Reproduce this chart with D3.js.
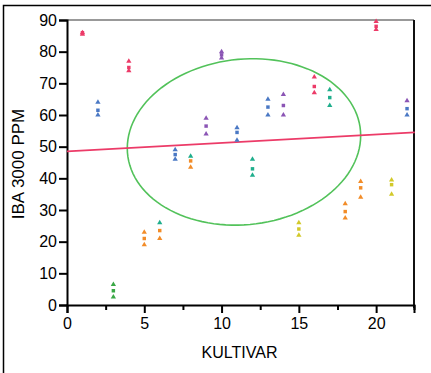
<!DOCTYPE html>
<html>
<head>
<meta charset="utf-8">
<script src="https://cdn.jsdelivr.net/npm/d3@7"></script>
<style>
  body { margin: 0; background: #fff; }
  text { font-family: "Liberation Sans", Arial, sans-serif; }
</style>
</head>
<body>
<svg id="chart" width="431" height="373"></svg>
<script>
// cultivar numbers and three replicate IBA values each
const kultivar = [1, 2, 3, 4, 5, 6, 7, 8, 9, 10, 11, 12, 13, 14, 15, 16, 17, 18, 19, 20, 21, 22];
const rep1 = [86, 64, 6.5, 77, 23, 26, 49, 47, 59, 80, 56, 46, 65, 66.5, 26, 72, 68, 32, 39, 89.5, 39.5, 64.5];
const rep2 = [86, 61.5, 4.5, 75, 21, 23.5, 47.5, 45.5, 56.5, 79, 54.5, 43, 62.5, 63, 24, 69, 65.5, 29.5, 37, 88, 38, 62];
const rep3 = [85.5, 60, 2.5, 74, 19, 21, 46, 43.5, 54, 78, 52, 41, 60, 60, 22, 67, 63, 27.5, 34, 87, 35, 60];

const xTicks = [0, 5, 10, 15, 20];
const yTicks = [0, 10, 20, 30, 40, 50, 60, 70, 80, 90];

// fitted line end points and the ellipse (centre, half-axes, tilt)
const fitX = [0, 22.5];
const fitY = [48.5, 54.5];
const ellipse = { cx: 11.45, cy: 51.5, a: 7.55, b: 26.2, tilt: 2 };

const red = "#ec3b68", blue = "#4a78c4", green = "#3aa846", orange = "#f28c28",
      teal = "#1fae8c", purple = "#8b55b5", yellow = "#d2c92a";
const pointColors = [
  [red, red, red], [blue, blue, blue], [green, green, green], [red, red, red],
  [orange, orange, orange], [teal, orange, orange], [blue, blue, blue], [teal, orange, orange],
  [purple, purple, purple], [purple, purple, purple], [blue, blue, blue], [teal, teal, teal],
  [blue, blue, blue], [purple, purple, purple], [yellow, yellow, yellow], [red, red, red],
  [teal, teal, teal], [orange, orange, orange], [orange, orange, orange], [red, red, red],
  [yellow, yellow, yellow], [purple, blue, blue]
];

const svg = d3.select("#chart");
const mLeft = 67, mRight = 414, mTop = 20, mBottom = 305;

const x = d3.scaleLinear().domain([0, 22.45]).range([mLeft, mRight]);
const y = d3.scaleLinear().domain([0, 90]).range([mBottom, mTop]);

// outer frame
svg.append("rect")
  .attr("x", 3.5).attr("y", 5.5).attr("width", 440).attr("height", 380)
  .attr("fill", "none").attr("stroke", "#000").attr("stroke-width", 1.5);

// plot border (top grey, right dark)
svg.append("line").attr("x1", mLeft).attr("x2", mRight).attr("y1", mTop).attr("y2", mTop)
  .attr("stroke", "#777").attr("stroke-width", 1.5);
svg.append("line").attr("x1", mRight).attr("x2", mRight).attr("y1", mTop).attr("y2", mBottom + 3)
  .attr("stroke", "#111").attr("stroke-width", 2);

// axes
svg.append("g")
  .attr("transform", `translate(${mLeft},0)`)
  .call(d3.axisLeft(y).tickValues(yTicks).tickSize(8).tickPadding(2).tickFormat(d3.format("d")));
svg.append("g")
  .attr("transform", `translate(0,${mBottom})`)
  .call(d3.axisBottom(x).tickValues(xTicks).tickSize(8).tickPadding(5).tickFormat(d3.format("d")));
svg.append("g")
  .attr("transform", `translate(0,${mBottom})`)
  .call(d3.axisBottom(x).tickValues([2.5, 7.5, 12.5, 17.5, 22.45]).tickSize(5).tickFormat(""))
  .select(".domain").remove();

svg.selectAll(".domain").attr("stroke", "#000").attr("stroke-width", 2);
svg.selectAll(".tick line").attr("stroke", "#000").attr("stroke-width", 2);
svg.selectAll(".tick text").attr("font-size", 16).attr("fill", "#000")
  .attr("font-family", "Liberation Sans, Arial, sans-serif");

// axis titles
svg.append("text")
  .attr("x", (mLeft + mRight) / 2 - 1).attr("y", 358)
  .attr("text-anchor", "middle").attr("font-size", 16)
  .text("KULTIVAR");
svg.append("text")
  .attr("transform", "translate(24,164) rotate(-90)")
  .attr("text-anchor", "middle").attr("font-size", 17)
  .text("IBA 3000 PPM");

// ellipse
const ellPts = d3.range(0, 361, 3).map(deg => {
  const t = deg * Math.PI / 180;
  return [ellipse.cx + ellipse.a * Math.cos(t),
          ellipse.cy + ellipse.b * Math.sin(t) + ellipse.tilt * Math.cos(t)];
});
svg.append("path")
  .datum(ellPts)
  .attr("d", d3.line().x(d => x(d[0])).y(d => y(d[1])))
  .attr("fill", "none").attr("stroke", "#52c25a").attr("stroke-width", 1.6);

// fitted line
svg.append("path")
  .datum(fitX.map((v, i) => [v, fitY[i]]))
  .attr("d", d3.line().x(d => x(d[0])).y(d => y(d[1])))
  .attr("stroke", red).attr("stroke-width", 1.6).attr("fill", "none");

// points
const pts = [];
kultivar.forEach((k, i) => {
  [rep1[i], rep2[i], rep3[i]].forEach((v, j) => pts.push({ k, v, c: pointColors[i][j], j }));
});
const shapes = [d3.symbolTriangle, d3.symbolSquare, d3.symbolTriangle];
svg.append("g").selectAll("path")
  .data(pts)
  .join("path")
  .attr("transform", d => `translate(${x(d.k)},${y(d.v)})`)
  .attr("d", d => d3.symbol().type(shapes[d.j]).size(12)())
  .attr("fill", d => d.c);
</script>
</body>
</html>
